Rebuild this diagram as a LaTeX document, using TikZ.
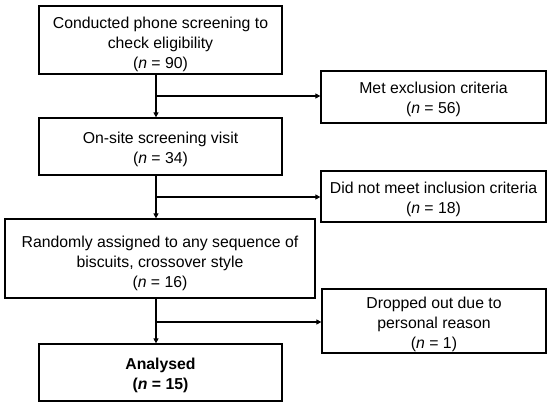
\documentclass[tikz,border=0pt]{standalone}
\usepackage{fontspec}
\setmainfont{Liberation Sans}
\usetikzlibrary{arrows.meta}
\begin{document}
\begin{tikzpicture}[x=1pt,y=-1pt,
  box/.style={draw,line width=1.3pt,inner sep=0pt},
  txt/.style={align=center,font=\fontsize{15.8}{20}\selectfont,inner sep=0pt},
  conn/.style={line width=1.1pt},
  arr/.style={conn,-{Triangle[length=5pt,width=5pt]}}]
\useasboundingbox (0,0) rectangle (550,407);
% main column boxes
\node[box,minimum width=243pt,minimum height=68pt] (b1) at (160.5,40) {};
\node[box,minimum width=243pt,minimum height=57pt] (b2) at (160.5,146.5) {};
\node[box,minimum width=310pt,minimum height=79pt] (b3) at (160,258.5) {};
\node[box,minimum width=243pt,minimum height=57pt] (b4) at (160.5,372.5) {};
% side boxes
\node[box,minimum width=225pt,minimum height=52pt] (s1) at (433.5,97) {};
\node[box,minimum width=225pt,minimum height=51pt] (s2) at (433.5,196.5) {};
\node[box,minimum width=224pt,minimum height=64pt] (s3) at (434,321) {};
% texts
\node[txt] (t1) at ([yshift=-4pt]b1.center) {Conducted phone screening to\\check eligibility\\(\textit{n} = 90)};
\node[txt] (t2) at ([yshift=-3pt]b2.center) {On-site screening visit\\(\textit{n} = 34)};
\node[txt] (t3) at ([yshift=-4.5pt]b3.center) {Randomly assigned to any sequence of\\biscuits, crossover style\\(\textit{n} = 16)};
\node[txt,font=\fontsize{15.8}{20}\selectfont\bfseries] (t4) at ([yshift=-3pt]b4.center) {Analysed\\(\textit{n} = 15)};
\node[txt] (u1) at ([yshift=-2.5pt]s1.center) {Met exclusion criteria\\(\textit{n} = 56)};
\node[txt] (u2) at ([yshift=-2.5pt]s2.center) {Did not meet inclusion criteria\\(\textit{n} = 18)};
\node[txt] (u3) at ([yshift=-3.5pt]s3.center) {Dropped out due to\\personal reason\\(\textit{n} = 1)};
% connectors
\coordinate (j1) at (156,96);
\coordinate (j2) at (156,197);
\coordinate (j3) at (156,322);
\draw[arr] (b1.south -| j1) -- (b2.north -| j1);
\draw[arr] (b2.south -| j2) -- (b3.north -| j2);
\draw[arr] (b3.south -| j3) -- (b4.north -| j3);
\draw[arr] (j1) -- (j1 -| s1.west);
\draw[arr] (j2) -- (j2 -| s2.west);
\draw[arr] (j3) -- (j3 -| s3.west);
\end{tikzpicture}
\end{document}
